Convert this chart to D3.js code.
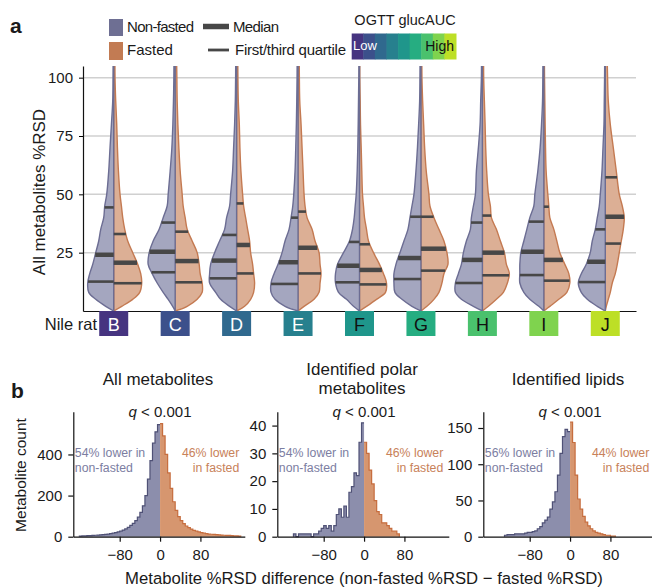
<!DOCTYPE html>
<html>
<head>
<meta charset="utf-8">
<script src="https://cdn.jsdelivr.net/npm/d3@7"></script>
<style>
  body { margin: 0; background: #fff; }
  text { font-family: "Liberation Sans", Arial, sans-serif; fill: #1a1a1a; }
</style>
</head>
<body>
<svg id="chart" width="652" height="588"></svg>
<script>
// ---- panel a data ----
const rats = ['B', 'C', 'D', 'E', 'F', 'G', 'H', 'I', 'J'];
// %RSD levels at which the half-violin widths were read
const levels = [0, 2, 5, 8, 12, 16, 20, 25, 30, 35, 40, 45, 50, 60, 70, 80, 90, 100, 106];
const nonFastedWidth = [
  [0, 8, 18, 25, 26, 24, 21, 18, 15, 13, 10, 9, 7, 5, 3.7, 2.3, 1, 0.7, 0.6],
  [0, 2.5, 7, 12, 18, 23, 27, 26, 22, 16, 12, 8, 7, 5, 3.3, 2.3, 1.7, 1.3, 1.2],
  [0, 7, 16, 21, 27, 27, 26, 22, 17, 12, 10, 7, 6, 4, 3, 2, 1.3, 1, 0.9],
  [0, 13, 23, 27, 27, 24, 20, 16, 13, 9, 7, 5.3, 4.3, 3, 2.3, 1.7, 1.3, 1, 0.9],
  [0, 6, 13, 21, 24, 24, 22, 16, 10, 7, 5.3, 4.3, 3.3, 2.3, 1.7, 1.3, 1, 0.7, 0.6],
  [0, 9, 19, 26, 27, 27, 25, 21, 17, 13, 11, 9, 7, 5, 3.5, 2.3, 1.3, 1, 0.9],
  [0, 9, 21, 27, 27, 24, 21, 19, 16, 12, 11, 9, 7, 6, 4, 2.3, 1.7, 1, 0.9],
  [0, 5, 14, 20, 24, 24, 24, 23, 20, 17, 14, 10, 9, 6, 3.7, 2.3, 1.3, 1, 0.9],
  [0, 8, 18, 24, 27, 24, 19, 15, 13, 10, 8, 6, 5, 3.3, 2.3, 1.3, 1, 0.7, 0.6]
];
const fastedWidth = [
  [0, 8, 19, 26, 28, 27, 24, 19, 14, 11, 9, 7.7, 6.3, 4.7, 3.7, 3, 2, 1.3, 1.2],
  [0, 12, 22, 27, 27, 25, 24, 22, 17, 12, 10, 8, 7, 5, 3.7, 2.7, 2, 1.7, 1.5],
  [0, 8, 14, 17, 18, 17, 16, 14, 13, 11, 9, 7, 6, 4.3, 3.3, 2.7, 1.7, 1.3, 1.2],
  [0, 6, 16, 21, 22, 23, 22, 21, 17, 14, 9, 7, 6, 5, 4, 3, 1.7, 1.3, 1.2],
  [0, 7, 17, 26, 27, 24, 20, 14, 9, 7, 5, 4, 3, 2.3, 1.7, 1, 0.7, 0.3, 0.3],
  [0, 6, 13, 18, 21, 23, 27, 26, 23, 18, 13, 9, 8, 5.3, 3.7, 2.7, 1.7, 1, 0.9],
  [0, 6, 14, 21, 25, 27, 24, 22, 18, 14, 9, 8, 6, 4.3, 3.3, 2.7, 2, 1.3, 1.2],
  [0, 6, 15, 23, 26, 25, 21, 16, 13, 10, 6, 5, 4, 2.3, 1.7, 1.3, 1, 0.7, 0.6],
  [0, 1, 3, 5, 7, 10, 12, 14, 16, 18, 19, 17, 14, 11, 8, 5, 3, 2.3, 2]
];
// [first quartile, median, third quartile]
const nonFastedQuartiles = [
  [12.6, 24.1, 44.4], [16.6, 25.4, 37.9], [14, 21.6, 32.6], [11.6, 20.9, 40], [12.3, 19.4, 29.6],
  [13.7, 22.7, 40.4], [12, 21.9, 37.9], [15.4, 25.4, 38.3], [12.4, 21.1, 35]
];
const fastedQuartiles = [
  [11.9, 20.7, 33], [12.3, 21.4, 34], [16.1, 28.3, 46.1], [16.1, 27.1, 42.6], [11.4, 17.6, 28.6],
  [17.3, 26.7, 40.4], [15.3, 25, 40.9], [13, 21.9, 44.7], [28.9, 40.4, 57.3]
];
const violinTicks = [25, 50, 75, 100];

// ---- panel b data (bin width 5 %RSD) ----
const binWidth = 5;
const allNonFasted = [3, 4, 4, 5, 5, 6, 7, 8, 9, 10, 11, 13, 15, 17, 20, 23, 27, 32, 38, 45, 55, 65, 78, 95, 118, 150, 200, 280, 370, 455, 510, 545];
const allFasted = [550, 490, 400, 310, 235, 170, 128, 98, 78, 64, 52, 44, 37, 31, 27, 23, 20, 17, 15, 13, 12, 11, 10, 9, 8, 7, 6, 6, 5, 4, 4, 3];
const polarNonFasted = [1, 0, 1, 1, 1, 1, 1, 0, 1, 1, 2, 3, 4, 3, 4, 2, 4, 8, 10, 7, 11, 7, 16, 18, 23, 22, 34, 41];
const polarFasted = [34, 30, 24, 19, 13, 9, 8, 5, 5, 4, 3, 2, 2, 1];
const lipidNonFasted = [2, 3, 3, 3, 4, 4, 4, 4, 5, 6, 6, 7, 8, 11, 14, 19, 23, 27, 38, 48, 62, 85, 115, 138, 148, 145];
const lipidFasted = [158, 130, 85, 52, 38, 28, 20, 15, 11, 8, 6, 5, 4, 3, 2, 2, 1, 1];
const histStarts = [-160, -140, -130];
const histTitles = [['All metabolites'], ['Identified polar', 'metabolites'], ['Identified lipids']];
const histYTicks = [[0, 200, 400], [0, 10, 20, 30, 40], [0, 50, 100, 150]];
const histYMax = [608, 45, 172.5];
const lowerShares = [['54%', '46%'], ['54%', '46%'], ['56%', '44%']];
const diffTicks = [-80, 0, 80];

const svg = d3.select('#chart');
const nonFastedColor = '#6e6f93';
const fastedColor = '#c27b53';
const FONT = '"Liberation Sans", Arial, sans-serif';

// ===================== panel a =====================
const y = d3.scaleLinear().domain([0, 105]).range([311, 66]);
const x = d3.scaleBand().domain(rats).range([83, 636]);
const halfW = d3.scaleLinear().domain([0, 30]).range([0, 30]);
const ratPos = d3.scalePoint().domain(rats).range([0.15, 0.9]);
const ratColor = r => d3.interpolateViridis(ratPos(r));

svg.append('defs').append('clipPath').attr('id', 'plotclip')
  .append('rect').attr('x', 83).attr('y', 66).attr('width', 553).attr('height', 245);

svg.append('g').selectAll('line')
  .data(violinTicks)
  .enter().append('line')
  .attr('x1', 83).attr('x2', 636)
  .attr('y1', d => y(d)).attr('y2', d => y(d))
  .attr('stroke', '#d0d0d0').attr('stroke-width', 1.5);

const violins = svg.append('g').attr('clip-path', 'url(#plotclip)');

rats.forEach((r, i) => {
  const cx = x(r) + x.bandwidth() / 2;
  const sides = [
    { w: fastedWidth[i], q: fastedQuartiles[i], dir: 1, fill: '#dcaf95', stroke: '#c47a52' },
    { w: nonFastedWidth[i], q: nonFastedQuartiles[i], dir: -1, fill: '#a4a6bf', stroke: '#6c6d93' }
  ];
  sides.forEach(s => {
    const area = d3.area()
      .curve(d3.curveCatmullRom)
      .y((d, j) => y(levels[j]))
      .x0(cx)
      .x1(d => cx + s.dir * halfW(d));
    violins.append('path')
      .datum(s.w)
      .attr('d', area)
      .attr('fill', s.fill)
      .attr('stroke', s.stroke)
      .attr('stroke-width', 1.4);
  });
  sides.forEach(s => {
    const widthAt = d3.scaleLinear().domain(levels).range(s.w);
    violins.selectAll(null)
      .data(s.q)
      .enter().append('line')
      .attr('x1', cx)
      .attr('x2', d => cx + s.dir * halfW(widthAt(d)))
      .attr('y1', d => y(d)).attr('y2', d => y(d))
      .attr('stroke', '#474747')
      .attr('stroke-width', (d, k) => k === 1 ? 4.5 : 2.6);
  });
});

const yAxis = svg.append('g')
  .attr('transform', 'translate(83,0)')
  .call(d3.axisLeft(y).tickValues(violinTicks).tickSize(4).tickSizeOuter(0).tickPadding(6));
yAxis.selectAll('text').style('font-size', '15px').style('font-family', FONT).attr('fill', '#1a1a1a');
yAxis.select('.domain').attr('stroke', '#111').attr('stroke-width', 1.2);

svg.append('g')
  .attr('transform', 'translate(0,311)')
  .call(d3.axisBottom(x).tickSize(0).tickSizeOuter(0).tickFormat(''))
  .select('.domain').attr('stroke', '#111').attr('stroke-width', 1.2);

svg.append('text')
  .attr('transform', 'translate(45,192) rotate(-90)')
  .attr('text-anchor', 'middle')
  .style('font-size', '17px')
  .text('All metabolites %RSD');

// rat labels
const labels = svg.append('g').selectAll('g')
  .data(rats)
  .enter().append('g')
  .attr('transform', d => `translate(${x(d) + x.bandwidth() / 2},311)`);
labels.append('rect')
  .attr('x', -14.5).attr('y', 0).attr('width', 29).attr('height', 25)
  .attr('fill', d => ratColor(d));
labels.append('text')
  .attr('y', 19.5)
  .attr('text-anchor', 'middle')
  .style('font-size', '18px')
  .style('fill', (d, i) => i < 4 ? '#ffffff' : '#111111')
  .text(d => d);
svg.append('text')
  .attr('x', 97).attr('y', 330)
  .attr('text-anchor', 'end')
  .style('font-size', '16.5px')
  .text('Nile rat');

// legend
svg.append('text').attr('x', 10).attr('y', 33).style('font-size', '21px').style('font-weight', 'bold').text('a');
const legend = svg.append('g');
legend.append('rect').attr('x', 109).attr('y', 19).attr('width', 14).attr('height', 17).attr('fill', nonFastedColor);
legend.append('rect').attr('x', 109).attr('y', 42).attr('width', 14).attr('height', 18).attr('fill', fastedColor);
legend.append('text').attr('x', 127).attr('y', 32).style('font-size', '15px').attr('textLength', 67).text('Non-fasted');
legend.append('text').attr('x', 127).attr('y', 55).style('font-size', '15px').text('Fasted');
legend.append('line').attr('x1', 203).attr('x2', 229).attr('y1', 26.5).attr('y2', 26.5).attr('stroke', '#474747').attr('stroke-width', 5.5);
legend.append('line').attr('x1', 208).attr('x2', 229).attr('y1', 50).attr('y2', 50).attr('stroke', '#474747').attr('stroke-width', 2.8);
legend.append('text').attr('x', 233).attr('y', 32).style('font-size', '15px').attr('textLength', 46).text('Median');
legend.append('text').attr('x', 235).attr('y', 55).style('font-size', '15px').attr('textLength', 111).text('First/third quartile');

const cbar = d3.scaleBand().domain(rats).range([351.7, 456]);
legend.append('text').attr('x', 405).attr('y', 25).attr('text-anchor', 'middle').style('font-size', '14.5px').text('OGTT glucAUC');
legend.selectAll('.cell')
  .data(rats)
  .enter().append('rect')
  .attr('class', 'cell')
  .attr('x', d => cbar(d)).attr('y', 33.5)
  .attr('width', cbar.bandwidth() + 0.5).attr('height', 26)
  .attr('fill', d => ratColor(d));
legend.append('text').attr('x', 353).attr('y', 50).style('font-size', '13px').style('fill', '#ffffff').text('Low');
legend.append('text').attr('x', 454).attr('y', 51).attr('text-anchor', 'end').style('font-size', '14px').style('fill', '#111').text('High');

// ===================== panel b =====================
svg.append('text').attr('x', 11).attr('y', 398).style('font-size', '21px').style('font-weight', 'bold').text('b');

const histLeft = [allNonFasted, polarNonFasted, lipidNonFasted];
const histRight = [allFasted, polarFasted, lipidFasted];
const panelX0 = [73.3, 277.3, 483.3];

histLeft.forEach((leftCounts, p) => {
  const rightCounts = histRight[p];
  const hx = d3.scaleLinear().domain([-172, 168]).range([panelX0[p], panelX0[p] + 171.5]);
  const hy = d3.scaleLinear().domain([0, histYMax[p]]).range([536.7, 411.7]);
  const g = svg.append('g');

  const leftPts = leftCounts.map((c, i) => [histStarts[p] + i * binWidth, c]);
  leftPts.push([0, leftCounts[leftCounts.length - 1]]);
  const rightPts = rightCounts.map((c, i) => [i * binWidth, c]);
  rightPts.push([rightCounts.length * binWidth, rightCounts[rightCounts.length - 1]]);

  const area = d3.area().curve(d3.curveStepAfter)
    .x(d => hx(d[0])).y0(hy(0)).y1(d => hy(d[1]));
  const line = d3.line().curve(d3.curveStepAfter)
    .x(d => hx(d[0])).y(d => hy(d[1]));

  g.append('path').datum(leftPts).attr('d', area).attr('fill', '#8c8eac');
  g.append('path').datum(rightPts).attr('d', area).attr('fill', '#d6966f');
  g.append('path').datum([[histStarts[p], 0]].concat(leftPts)).attr('d', line)
    .attr('fill', 'none').attr('stroke', '#4f5176').attr('stroke-width', 1.2);
  g.append('path').datum(rightPts.concat([[rightCounts.length * binWidth, 0]])).attr('d', line)
    .attr('fill', 'none').attr('stroke', '#c66d3e').attr('stroke-width', 1.2);

  const ya = g.append('g').attr('transform', `translate(${panelX0[p]},0)`)
    .call(d3.axisLeft(hy).tickValues(histYTicks[p]).tickSize(5).tickSizeOuter(0).tickPadding(6));
  const xa = g.append('g').attr('transform', 'translate(0,536.7)')
    .call(d3.axisBottom(hx).tickValues(diffTicks).tickSize(5).tickSizeOuter(0).tickPadding(8));
  [ya, xa].forEach(a => {
    a.selectAll('text').style('font-size', '15px').style('font-family', FONT).attr('fill', '#1a1a1a');
    a.select('.domain').attr('stroke', '#111').attr('stroke-width', 1.2);
    a.selectAll('.tick line').attr('stroke', '#111').attr('stroke-width', 1.2);
  });

  // titles
  const titleY = histTitles[p].length > 1 ? 375 : 385;
  histTitles[p].forEach((t, k) => {
    g.append('text').attr('x', hx(0) - 2).attr('y', titleY + k * 19)
      .attr('text-anchor', 'middle').style('font-size', '17px').text(t);
  });
  const q = g.append('text').attr('x', hx(0)).attr('y', 416.5).attr('text-anchor', 'middle').style('font-size', '15px');
  q.append('tspan').style('font-style', 'italic').text('q');
  q.append('tspan').text(' < 0.001');

  // annotations
  const leftNote = g.append('text').style('font-size', '12.3px').style('fill', '#7c7ea2');
  leftNote.append('tspan').attr('x', panelX0[p] + 1.5).attr('y', 457).text(`${lowerShares[p][0]} lower in`);
  leftNote.append('tspan').attr('x', panelX0[p] + 1.5).attr('y', 471.5).text('non-fasted');
  const rx = panelX0[p] + 166;
  const rightNote = g.append('text').attr('text-anchor', 'end').style('font-size', '12.3px').style('fill', '#c8825a');
  rightNote.append('tspan').attr('x', rx).attr('y', 457).text(`${lowerShares[p][1]} lower`);
  rightNote.append('tspan').attr('x', rx).attr('y', 471.5).text('in fasted');
});

svg.append('text')
  .attr('transform', 'translate(26,475) rotate(-90)')
  .attr('text-anchor', 'middle')
  .style('font-size', '15.5px')
  .text('Metabolite count');
svg.append('text')
  .attr('x', 364).attr('y', 584)
  .attr('text-anchor', 'middle')
  .style('font-size', '16.7px')
  .text('Metabolite %RSD difference (non-fasted %RSD \u2212 fasted %RSD)');
</script>
</body>
</html>
